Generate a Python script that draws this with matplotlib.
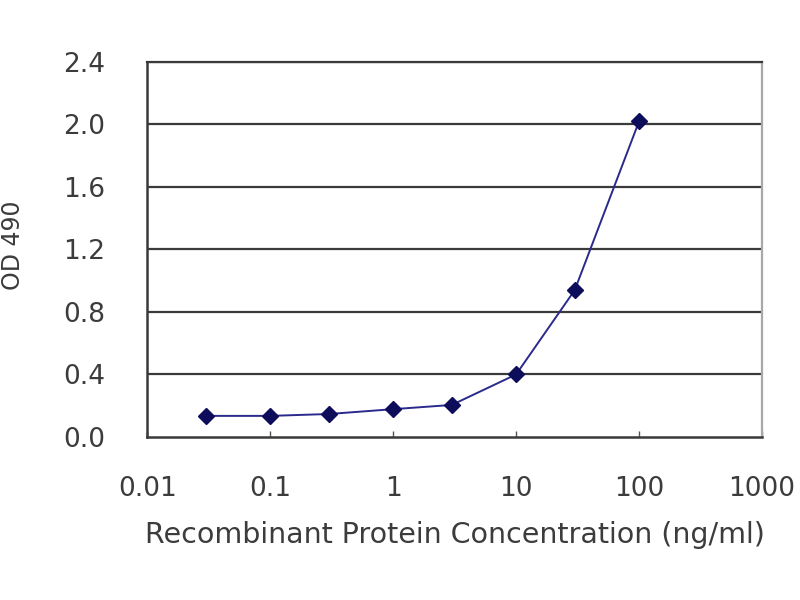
import matplotlib
matplotlib.use("Agg")
import matplotlib.pyplot as plt
from matplotlib.ticker import FixedLocator, FixedFormatter, NullLocator

# wide sans face - the reference text is noticeably wide
plt.rcParams['font.family'] = ['DejaVu Sans']

# ── data ─────────────────────────────────────────────────────────────────────
conc = [0.03, 0.1, 0.3, 1, 3, 10, 30, 100]          # ng/ml
od490 = [0.135, 0.135, 0.147, 0.178, 0.205, 0.40, 0.94, 2.02]

x_ticks = [0.01, 0.1, 1, 10, 100, 1000]
x_tick_labels = ['0.01', '0.1', '1', '10', '100', '1000']
y_ticks = [0.0, 0.4, 0.8, 1.2, 1.6, 2.0, 2.4]
y_tick_labels = ['0.0', '0.4', '0.8', '1.2', '1.6', '2.0', '2.4']

TXT = '#3c3c3c'

# ── figure ───────────────────────────────────────────────────────────────────
fig = plt.figure(figsize=(8, 6), dpi=100)
ax = fig.add_axes([0.184, 0.2717, 0.7685, 0.625])

ax.set_xscale('log')
ax.set_xlim(0.01, 1000)
ax.set_ylim(0, 2.4)

for yv in y_ticks[1:]:
    ax.axhline(yv, color='#3a3a3a', lw=1.6, zorder=1)

ax.plot(conc, od490, color='#2a2a8c', lw=1.4, zorder=2)
ax.plot(conc, od490, ls='none', marker='D', ms=8.5, color='#0d0d5c', zorder=3)

ax.xaxis.set_major_locator(FixedLocator(x_ticks))
ax.xaxis.set_major_formatter(FixedFormatter(x_tick_labels))
ax.xaxis.set_minor_locator(NullLocator())
ax.set_yticks(y_ticks)
ax.set_yticklabels(y_tick_labels)

ax.tick_params(axis='x', direction='in', length=4, width=1, color='#555555',
               labelsize=19, labelcolor=TXT, pad=28)
ax.tick_params(axis='y', length=0, labelsize=19, labelcolor=TXT, pad=30)

for side in ['left', 'bottom']:
    ax.spines[side].set_color('#3a3a3a')
    ax.spines[side].set_linewidth(1.8)
ax.spines['top'].set_color('#3a3a3a')
ax.spines['top'].set_linewidth(1.6)
ax.spines['right'].set_color('#a8a8a8')
ax.spines['right'].set_linewidth(1.6)

ax.set_xlabel('Recombinant Protein Concentration (ng/ml)', fontsize=20.5, color=TXT)
ax.xaxis.label.set_va('center')
ax.xaxis.set_label_coords(0.5, -0.261)

ax.set_ylabel('OD 490', fontsize=17, color=TXT)
ax.yaxis.label.set_va('center')
ax.yaxis.set_label_coords(-0.218, 0.512)

fig.savefig('out.png', dpi=100)
